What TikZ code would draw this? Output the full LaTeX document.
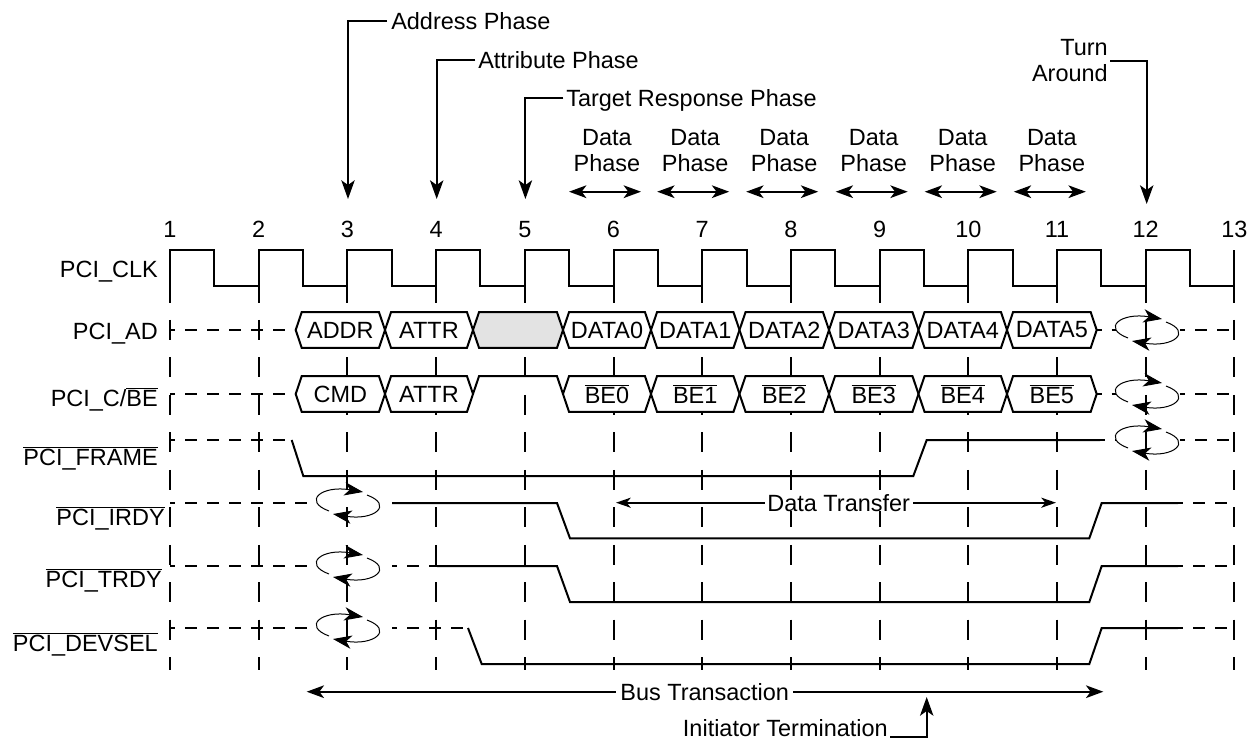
\documentclass[tikz,border=0pt]{standalone}
\usepackage{fontspec}
\setmainfont{Liberation Sans}
\usetikzlibrary{arrows.meta}
\newcommand{\ovl}[1]{\ensuremath{\overline{\hbox{#1}}}}
\newcommand{\hexbox}[5]{%
  \draw[sig,fill=#5] (#2,#4) -- ({#2+6},{#4-17.8}) -- ({#3-6},{#4-17.8}) -- (#3,#4) -- ({#3-6},{#4+17.8}) -- ({#2+6},{#4+17.8}) -- cycle;
  \node[txt] (#1) at ({(#2+#3)/2},#4) {\strut};}
\newcommand{\turnloop}[2]{%
  \begin{scope}[shift={(#1,#2)}]
    \draw[loopline] (-19,8) .. controls (-46,-2) and (-26,-18) .. (15,-11);
    \draw[loopline] (19,-8) .. controls (46,2) and (26,18) .. (-15,11);
  \end{scope}}
\tikzset{
  sig/.style={line width=1.5pt, line join=miter},
  gridline/.style={line width=1.5pt, dash pattern=on 15pt off 13.1pt},
  hdash/.style={line width=1.5pt, dash pattern=on 9pt off 7.5pt, dash phase=5.25pt},
  loopline/.style={line width=0.75pt, -{Stealth[length=14pt,width=10pt,inset=4pt]}},
  phasearrow/.style={line width=1.5pt, -{Stealth[length=14pt,width=10pt,inset=3.5pt]}},
  spanarrow/.style={line width=1.5pt, {Stealth[length=13pt,width=9.5pt,inset=3.5pt]}-{Stealth[length=13pt,width=9.5pt,inset=3.5pt]}},
  smallspan/.style={line width=1.5pt, {Stealth[length=11pt,width=7.5pt,inset=3pt]}-{Stealth[length=11pt,width=7.5pt,inset=3pt]}},
  txt/.style={font=\fontsize{17.6}{21}\selectfont, inner sep=0pt},
}
\begin{document}
\begin{tikzpicture}[x=0.75pt,y=-0.75pt]
\useasboundingbox (0,0) rectangle (1249,740);

% ---- vertical dashed clock grid
\foreach \i in {0,...,12} {\draw[gridline] ({170+88.7*\i},282.5) -- ({170+88.7*\i},670);}

% ---- clock numbers
\foreach \i in {1,...,13} {\node[txt,anchor=base] (n\i) at ({170+88.7*(\i-1)},237.5) {\i};}

% ---- row labels
\node[txt,anchor=base east] (lclk) at (158,277.7) {PCI\_CLK};
\node[txt,anchor=base east] (lad) at (158,339.4) {PCI\_AD};
\node[txt,anchor=base east] (lcbe) at (158,406.4) {PCI\_C/\ovl{BE}};
\node[txt,anchor=base east] (lframe) at (158,465.7) {\ovl{PCI\_FRAME}};
\node[txt,anchor=base east] (lirdy) at (165,525.1) {\ovl{PCI\_IRDY}};
\node[txt,anchor=base east] (ltrdy) at (162,587.7) {\ovl{PCI\_TRDY}};
\node[txt,anchor=base east] (ldevsel) at (158,651.7) {\ovl{PCI\_DEVSEL}};

% ---- clock
\draw[sig] (170,285.7) \foreach \k in {1,...,12} { -- ++(0,-35.7) -- ++(44.35,0) -- ++(0,35.7) -- ++(44.35,0) } -- ++(0,-35.7);

% ---- PCI_AD
\draw[hdash] (170,330) -- (295.7,330);
\hexbox{ad0}{295.7}{385}{330}{white}
\hexbox{ad1}{385}{473}{330}{white}
\hexbox{ad2}{473}{563}{330}{black!11}
\hexbox{ad3}{563}{651}{330}{white}
\hexbox{ad4}{651}{739.5}{330}{white}
\hexbox{ad5}{739.5}{829}{330}{white}
\hexbox{ad6}{829}{918.5}{330}{white}
\hexbox{ad7}{918.5}{1007}{330}{white}
\hexbox{ad8}{1007}{1096.7}{330}{white}
\node[txt] (tad0) at (ad0) {ADDR};
\node[txt] (tad1) at (ad1) {ATTR};
\node[txt] (tad3) at (ad3) {DATA0};
\node[txt] (tad4) at (ad4) {DATA1};
\node[txt] (tad5) at (ad5) {DATA2};
\node[txt] (tad6) at (ad6) {DATA3};
\node[txt] (tad7) at (ad7) {DATA4};
\node[txt] (tad8) at (ad8) {DATA5};
\draw[hdash] (1096.7,330) -- (1116,330);
\draw[hdash] (1180,330) -- (1234.4,330);
\turnloop{1147}{330}

% ---- PCI_C/BE
\draw[hdash] (170,394) -- (295.7,394);
\hexbox{cb0}{295.7}{385}{394}{white}
\hexbox{cb1}{385}{473}{394}{white}
\hexbox{cb3}{563}{651}{394}{white}
\hexbox{cb4}{651}{739.5}{394}{white}
\hexbox{cb5}{739.5}{829}{394}{white}
\hexbox{cb6}{829}{918.5}{394}{white}
\hexbox{cb7}{918.5}{1007}{394}{white}
\hexbox{cb8}{1007}{1096.7}{394}{white}
\draw[sig] (473,394) -- (479,376.2) -- (557,376.2) -- (563,394);
\node[txt] (tcb0) at (cb0) {CMD};
\node[txt] (tcb1) at (cb1) {ATTR};
\node[txt] (tcb3) at (cb3) {\ovl{BE0}};
\node[txt] (tcb4) at (cb4) {\ovl{BE1}};
\node[txt] (tcb5) at (cb5) {\ovl{BE2}};
\node[txt] (tcb6) at (cb6) {\ovl{BE3}};
\node[txt] (tcb7) at (cb7) {\ovl{BE4}};
\node[txt] (tcb8) at (cb8) {\ovl{BE5}};
\draw[hdash] (1096.7,394) -- (1116,394);
\draw[hdash] (1180,394) -- (1234.4,394);
\turnloop{1147}{394}

% ---- PCI_FRAME
\draw[hdash] (170,440) -- (291.7,440);
\draw[sig] (291.7,440) -- (303.3,476) -- (913.3,476) -- (926.7,440) -- (1100,440);
\draw[hdash] (1100,440) -- (1116,440);
\draw[hdash] (1180,440) -- (1234.4,440);
\turnloop{1147}{440}

% ---- PCI_IRDY
\draw[hdash] (170,503) -- (312,503);
\turnloop{348}{503}
\draw[sig] (392,503) -- (557,503) -- (570,538.3) -- (1089.3,538.3) -- (1101.7,503) -- (1178,503);
\draw[hdash] (1178,503) -- (1234.4,503);

% ---- PCI_TRDY
\draw[hdash] (170,566) -- (312,566);
\turnloop{348}{566}
\draw[hdash] (392,566) -- (437,566);
\draw[sig] (437,566) -- (557,566) -- (570,602) -- (1089.3,602) -- (1101.7,566) -- (1178,566);
\draw[hdash] (1178,566) -- (1234.4,566);

% ---- PCI_DEVSEL
\draw[hdash] (170,628) -- (312,628);
\turnloop{348}{628}
\draw[hdash] (392,628) -- (468,628);
\draw[sig] (468,628) -- (481.7,664) -- (1089.3,664) -- (1101.7,628) -- (1178,628);
\draw[hdash] (1178,628) -- (1234.4,628);

% ---- phase annotations
\node[txt,anchor=west] (ap) at (391,21) {Address Phase};
\node[txt,anchor=west] (atp) at (478,60) {Attribute Phase};
\node[txt,anchor=base west] (trp) at (566,106.4) {Target Response Phase};
\coordinate (ap3) at (348,199);
\coordinate (atp4) at (436.7,199);
\coordinate (trp5) at (525.4,199);
\draw[phasearrow] ([xshift=-3pt]ap.west) -| (ap3);
\draw[phasearrow] ([xshift=-2pt]atp.west) -| (atp4);
\draw[phasearrow] ([xshift=-2pt]trp.west |- 0,98) -| (trp5);

\foreach \c [count=\j] in {607,695.2,784.2,873.7,962.7,1051.8} {
  \node[txt,anchor=base] (dpa\j) at (\c,145.1) {Data};
  \node[txt,anchor=base] (dpb\j) at (\c,171.7) {Phase};
  \coordinate (dl\j) at ({\c-38},191.7);
  \coordinate (dr\j) at ({\c+34},191.7);
  \draw[spanarrow] (dl\j) -- (dr\j);
}

\node[txt,anchor=base east] (turn) at (1108,55) {Turn};
\node[txt,anchor=base east] (around) at (1108,81.7) {Around};
\coordinate (ta12) at (1146.7,204);
\draw[phasearrow] (1110,60.7) -| (ta12);

% ---- transfer / transaction spans
\coordinate (dtl) at (616,502.7);
\coordinate (dtr) at (1056,502.7);
\draw[smallspan] (dtl) -- (dtr);
\node[txt,fill=white,inner xsep=2pt] (dt) at (838.7,502.7) {Data Transfer};

\coordinate (btl) at (306.7,691.7);
\coordinate (btr) at (1103.3,691.7);
\draw[spanarrow] (btl) -- (btr);
\node[txt,fill=white,inner xsep=3pt] (bt) at (704.7,691.7) {Bus Transaction};

\node[txt,anchor=base east] (it) at (888,736.4) {Initiator Termination};
\coordinate (itip) at (926.7,697);
\draw[phasearrow] ([xshift=1.5pt,yshift=-0.75pt]it.base east) -| (itip);
\end{tikzpicture}
\end{document}
